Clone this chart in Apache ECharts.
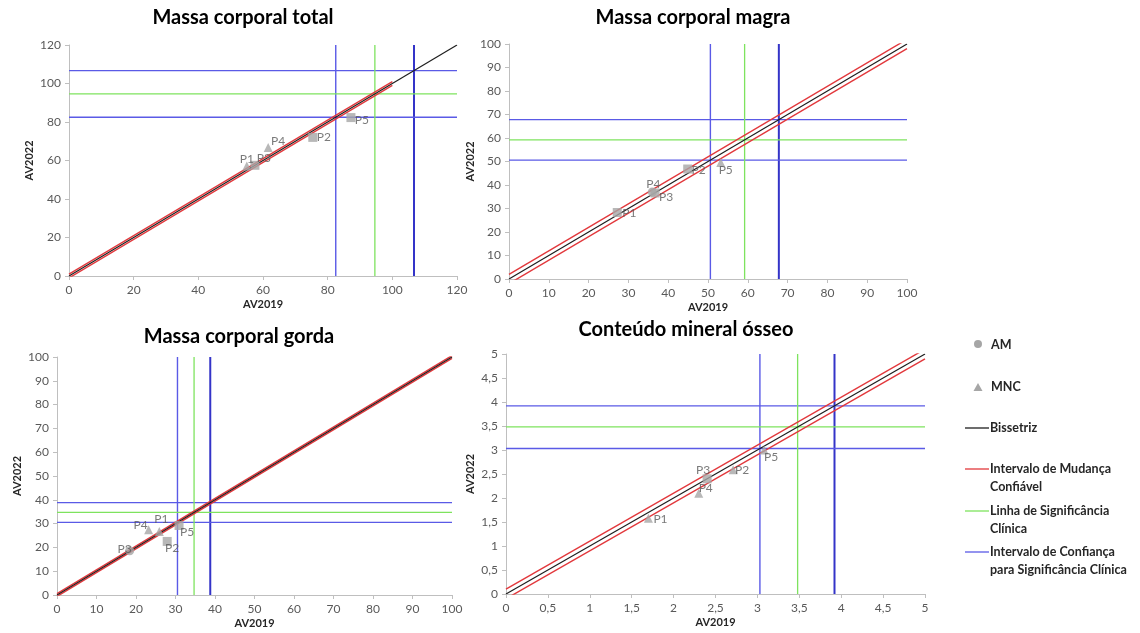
<!DOCTYPE html>
<html><head><meta charset="utf-8">
<script src="https://cdn.jsdelivr.net/npm/echarts@6/dist/echarts.min.js"></script>
<style>html,body{margin:0;padding:0;background:#fff}#c{width:1140px;height:633px}</style>
</head><body><div id="c"></div>
<script>
// ---------- DATA ----------
const titles = ['Massa corporal total', 'Massa corporal magra', 'Massa corporal gorda', 'Conteúdo mineral ósseo'];
const xAxisName = 'AV2019';
const yAxisName = 'AV2022';
// axis ranges and tick steps per panel
const axisMax = [120, 100, 100, 5];
const axisStep = [20, 10, 10, 0.5];
// reliable change interval: offset from bisector and x where it ends
const rciOffset = [1, 2, 0.6, 0.1];
const rciEnd = [100, 100, 100, 5];
// clinical significance line and its confidence interval
const clinical = [94.6, 59.2, 34.7, 3.48];
const ciLow = [82.5, 50.6, 30.5, 3.03];
const ciHigh = [106.7, 67.8, 38.8, 3.92];
// points: [label, AV2019, AV2022]
const totalSquare = [['P3', 57.5, 57.5], ['P2', 75.4, 72.0], ['P5', 87.2, 82.3]];
const totalTriangle = [['P1', 55.0, 57.2], ['P4', 61.6, 66.8]];
const totalCircle = [];
const magraSquare = [['P1', 27.2, 28.3], ['P3', 36.7, 36.6], ['P2', 44.9, 46.8]];
const magraTriangle = [['P5', 53.2, 49.6]];
const magraCircle = [['P4', 36.0, 37.0]];
const gordaSquare = [['P2', 27.9, 22.5], ['P5', 30.9, 29.2]];
const gordaTriangle = [['P4', 23.2, 27.4], ['P1', 25.9, 26.7]];
const gordaCircle = [['P3', 18.4, 18.6]];
const osseaSquare = [['P3', 2.40, 2.40]];
const osseaTriangle = [['P1', 1.70, 1.58], ['P4', 2.30, 2.10], ['P2', 2.71, 2.59], ['P5', 3.08, 3.00]];
const osseaCircle = [];
// legend labels
const legendMarkers = ['AM', 'MNC'];
const legendLines = ['Bissetriz', 'Intervalo de Mudança\nConfiável', 'Linha de Significância\nClínica', 'Intervalo de Confiança\npara Significância Clínica'];

// ---------- STYLE / LAYOUT ----------
const FONT = 'Lato, "Open Sans", sans-serif';
const grids = [
  { left: 69, top: 45, width: 388, height: 231 },
  { left: 509, top: 44, width: 398, height: 235 },
  { left: 57, top: 357, width: 395, height: 238 },
  { left: 506, top: 354, width: 419, height: 240 }
];
const titlePos = [[243, 18], [693, 18], [239, 337], [686, 330]];
const labelOffsets = [
  { P1: [0, -7], P3: [9, -7], P4: [10, -6], P2: [11, 0], P5: [11, 3] },
  { P1: [12, 1], P4: [1, -8], P3: [11, 4], P2: [11, 1], P5: [5, 8] },
  { P3: [-5, -2], P4: [-8, -5], P1: [2, -12], P2: [5, 7], P5: [8, 7] },
  { P1: [12, 1], P4: [7, -5], P3: [-4, -9], P2: [9, 0], P5: [7, 7] }
];
const C_BLACK = '#1e1e1e', C_RED = '#e2383c', C_GREEN = '#7ee35e', C_BLUE = '#5a5ae6', C_BLUE_D = '#3434c8';
const C_MARK = '#a6a6a6';

const groups = [
  [totalSquare, totalTriangle, totalCircle],
  [magraSquare, magraTriangle, magraCircle],
  [gordaSquare, gordaTriangle, gordaCircle],
  [osseaSquare, osseaTriangle, osseaCircle]
];

const fmt = (i) => (v) => i === 3 ? String(v).replace('.', ',') : String(v);

const xAxes = [], yAxes = [], series = [];
function line(i, name, data, color, width, z) {
  series.push({ type: 'line', name, xAxisIndex: i, yAxisIndex: i, data, symbol: 'none', silent: true,
    clip: true, lineStyle: { color, width }, z: z || 2, animation: false });
}
const axisCommon = (i) => ({
  type: 'value', gridIndex: i, min: 0, max: axisMax[i], interval: axisStep[i],
  axisLine: { show: true, lineStyle: { color: '#bfbfbf', width: 1 } },
  axisTick: { show: true, length: 4, lineStyle: { color: '#bfbfbf' } },
  splitLine: { show: false },
  axisLabel: { color: '#595959', fontSize: 12, fontFamily: FONT, formatter: fmt(i), margin: 8 },
  nameLocation: 'middle',
  nameTextStyle: { color: '#262626', fontSize: 11, fontWeight: 'bold', fontFamily: FONT }
});

for (let i = 0; i < 4; i++) {
  const M = axisMax[i], c = rciOffset[i], e = rciEnd[i];
  xAxes.push(Object.assign(axisCommon(i), { name: xAxisName, nameGap: 23 }));
  yAxes.push(Object.assign(axisCommon(i), { name: yAxisName, nameGap: i === 2 ? 34 : (i === 0 ? 34 : 30) }));
  // confidence interval lines
  line(i, legendLines[3], [[ciLow[i], 0], [ciLow[i], M]], C_BLUE, 1.4);
  line(i, legendLines[3], [[ciHigh[i], 0], [ciHigh[i], M]], C_BLUE_D, 2);
  line(i, legendLines[3], [[0, ciLow[i]], [M, ciLow[i]]], C_BLUE, 1.4);
  line(i, legendLines[3], [[0, ciHigh[i]], [M, ciHigh[i]]], C_BLUE, 1.4);
  // clinical significance
  line(i, legendLines[2], [[clinical[i], 0], [clinical[i], M]], C_GREEN, 1.3);
  line(i, legendLines[2], [[0, clinical[i]], [M, clinical[i]]], C_GREEN, 1.3);
  // reliable change
  line(i, legendLines[1], [[0, c], [e, e + c]], C_RED, 1.4, 3);
  line(i, legendLines[1], [[0, -c], [e, e - c]], C_RED, 1.4, 3);
  // bisector
  line(i, legendLines[0], [[0, 0], [M, M]], C_BLACK, 1.2, 4);
  // points
  const syms = ['rect', 'triangle', 'circle'];
  const names = ['Outros', 'MNC', 'AM'];
  groups[i].forEach((g, k) => {
    if (!g.length) return;
    series.push({
      type: 'scatter', name: names[k], xAxisIndex: i, yAxisIndex: i, symbol: syms[k], symbolSize: 9, z: 6,
      animation: false,
      itemStyle: { color: C_MARK },
      label: { show: true, formatter: '{b}', color: '#595959', fontSize: 12, fontFamily: FONT },
      data: g.map(p => ({ name: p[0], value: [p[1], p[2]],
        label: { position: 'inside', offset: labelOffsets[i][p[0]] || [10, 0] } }))
    });
  });
}

// titles + legend as graphic text
const graphic = [];
titles.forEach((t, i) => graphic.push({ type: 'text', x: titlePos[i][0], y: titlePos[i][1],
  style: { text: t, fill: '#000', font: 'bold 20px ' + FONT, align: 'center', verticalAlign: 'middle' } }));
const LX = 978, TX = 991, LFONT = 'bold 12.5px ' + FONT;
graphic.push({ type: 'circle', shape: { cx: LX, cy: 344, r: 4 }, style: { fill: C_MARK } });
graphic.push({ type: 'polygon', shape: { points: [[LX, 383], [LX + 4.5, 391], [LX - 4.5, 391]] }, style: { fill: C_MARK } });
graphic.push({ type: 'text', x: TX, y: 345, style: { text: legendMarkers[0], font: LFONT, fill: '#262626', verticalAlign: 'middle' } });
graphic.push({ type: 'text', x: TX, y: 387, style: { text: legendMarkers[1], font: LFONT, fill: '#262626', verticalAlign: 'middle' } });
const lineItems = [[428, C_BLACK], [469, C_RED], [511, C_GREEN], [552, C_BLUE]];
lineItems.forEach((it, k) => {
  graphic.push({ type: 'line', shape: { x1: 965, y1: it[0], x2: 989, y2: it[0] }, style: { stroke: it[1], lineWidth: 1.3 } });
  graphic.push({ type: 'text', x: 990, y: it[0] - 9, style: { text: legendLines[k], font: LFONT, fill: '#262626', verticalAlign: 'top', lineHeight: 18 } });
});

const chart = echarts.init(document.getElementById('c'), null, { renderer: 'canvas' });
chart.setOption({
  animation: false,
  backgroundColor: '#fff',
  grid: grids,
  xAxis: xAxes,
  yAxis: yAxes,
  series,
  graphic
});
</script></body></html>
